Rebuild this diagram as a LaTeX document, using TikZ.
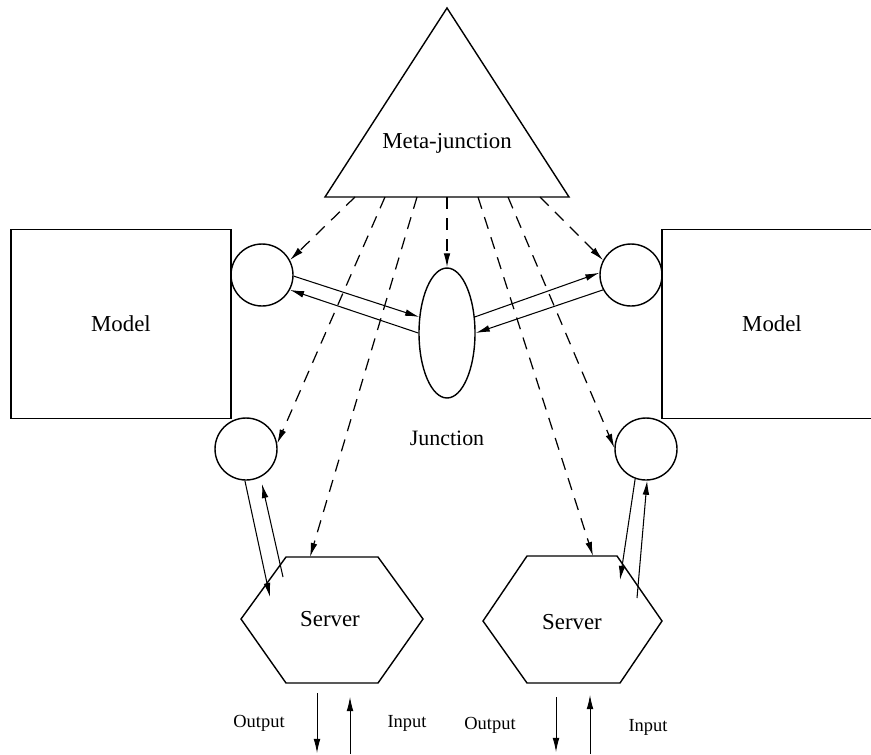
\documentclass[tikz,border=0pt]{standalone}
\usepackage{fontspec}
\setmainfont{Liberation Serif}
\usetikzlibrary{arrows.meta,shapes.geometric}
\tikzset{
  shapeline/.style={draw, line width=0.8pt},
  port/.style={shapeline, circle, minimum size=1.24cm, inner sep=0pt},
  modelbox/.style={shapeline, rectangle, minimum width=4.4cm, minimum height=3.78cm, inner sep=0pt, font=\fontsize{13}{15}\selectfont},
  lbl/.style={inner sep=0pt, font=\fontsize{13}{15}\selectfont},
  smalllbl/.style={inner sep=0pt, font=\fontsize{10.5}{12}\selectfont},
  tip/.style={-{Latex[length=8pt,width=3.8pt]}},
  flow/.style={tip, line width=0.6pt},
  ctrl/.style={tip, line width=0.7pt, dash pattern=on 7pt off 5pt},
  io/.style={tip, line width=0.5pt}
}
\begin{document}
\begin{tikzpicture}[x=0.02cm,y=-0.02cm]
\useasboundingbox (0,0) rectangle (871,754);
\clip (0,0) rectangle (871,754);
% Meta-junction triangle
\coordinate (apex) at (447,8);
\coordinate (bl) at (325,197);
\coordinate (br) at (569,197);
\draw[line width=0.8pt] (apex) -- (bl) -- (br) -- cycle;
\node[lbl] (meta) at (447,143) {Meta-junction};
% base points of control lines
\coordinate (m1) at (355,197);
\coordinate (m2) at (385,197);
\coordinate (m3) at (417,197);
\coordinate (m4) at (447,197);
\coordinate (m5) at (478,197);
\coordinate (m6) at (508,197);
\coordinate (m7) at (540,197);
% Models
\node[modelbox] (modelL) at (121,324) {Model};
\node[modelbox] (modelR) at (772,324) {Model};
% ports
\node[port] (cTL) at (262,275) {};
\node[port] (cTR) at (631,275) {};
\node[port] (cBL) at (246,449) {};
\node[port] (cBR) at (646,449) {};
% Junction
\node[shapeline, ellipse, minimum width=1.12cm, minimum height=2.6cm, inner sep=0pt] (J) at (447,333) {};
\node[lbl, font=\fontsize{12.5}{14}\selectfont] (jlabel) at (447,438) {Junction};
% Servers
\node[lbl] (srvL) at (330,619) {Server};
\draw[line width=0.8pt] (286,557) -- (378,557) -- (423,619) -- (378,683) -- (286,683) -- (241,619) -- cycle;
\node[lbl] (srvR) at (572,622) {Server};
\draw[line width=0.8pt] (527,556) -- (617,556) -- (662,621) -- (620,683) -- (527,683) -- (483,621) -- cycle;
% server contact points
\coordinate (sLtop) at (310,557);
\coordinate (sRtop) at (593,556);
\coordinate (sLin) at (270,597);
\coordinate (sLout) at (283,577);
\coordinate (sRin) at (620,580);
\coordinate (sRout) at (637,598);
\coordinate (cBLin) at (262,484);
% control (dashed) arrows
\draw[ctrl] (m1) -- (cTL.28);
\draw[ctrl] (m2) -- (cBL.10);
\draw[ctrl] (m3) -- (sLtop);
\draw[ctrl] (m4) -- (J.north);
\draw[ctrl] (m5) -- (sRtop);
\draw[ctrl] (m6) -- (cBR.178);
\draw[ctrl] (m7) -- (cTR.152);
% data flows port <-> junction
\draw[flow] (cTL.-2) -- (J.150);
\draw[flow] (J.180) -- (cTL.-28);
\draw[flow] (J.30) -- (cTR.176);
\draw[flow] (cTR.208) -- (J.0);
% port <-> server
\draw[flow] (cBL.268) -- (sLin);
\draw[flow] (sLout) -- (cBLin);
\draw[flow] (cBR.250) -- (sRin);
\draw[flow] (sRout) -- (cBR.272);
% input / output
\coordinate (oL1) at (317,693);
\coordinate (oL2) at (317,753);
\coordinate (iL1) at (350,754);
\coordinate (iL2) at (350,697);
\coordinate (oR1) at (556,697);
\coordinate (oR2) at (556,752);
\coordinate (iR1) at (590,754);
\coordinate (iR2) at (590,695);
\draw[io] (oL1) -- (oL2);
\draw[io] (iL1) -- (iL2);
\draw[io] (oR1) -- (oR2);
\draw[io] (iR1) -- (iR2);
\node[smalllbl] (outL) at (259,723) {Output};
\node[smalllbl] (inL) at (407,723) {Input};
\node[smalllbl] (outR) at (490,725) {Output};
\node[smalllbl] (inR) at (648,727) {Input};
\end{tikzpicture}
\end{document}
